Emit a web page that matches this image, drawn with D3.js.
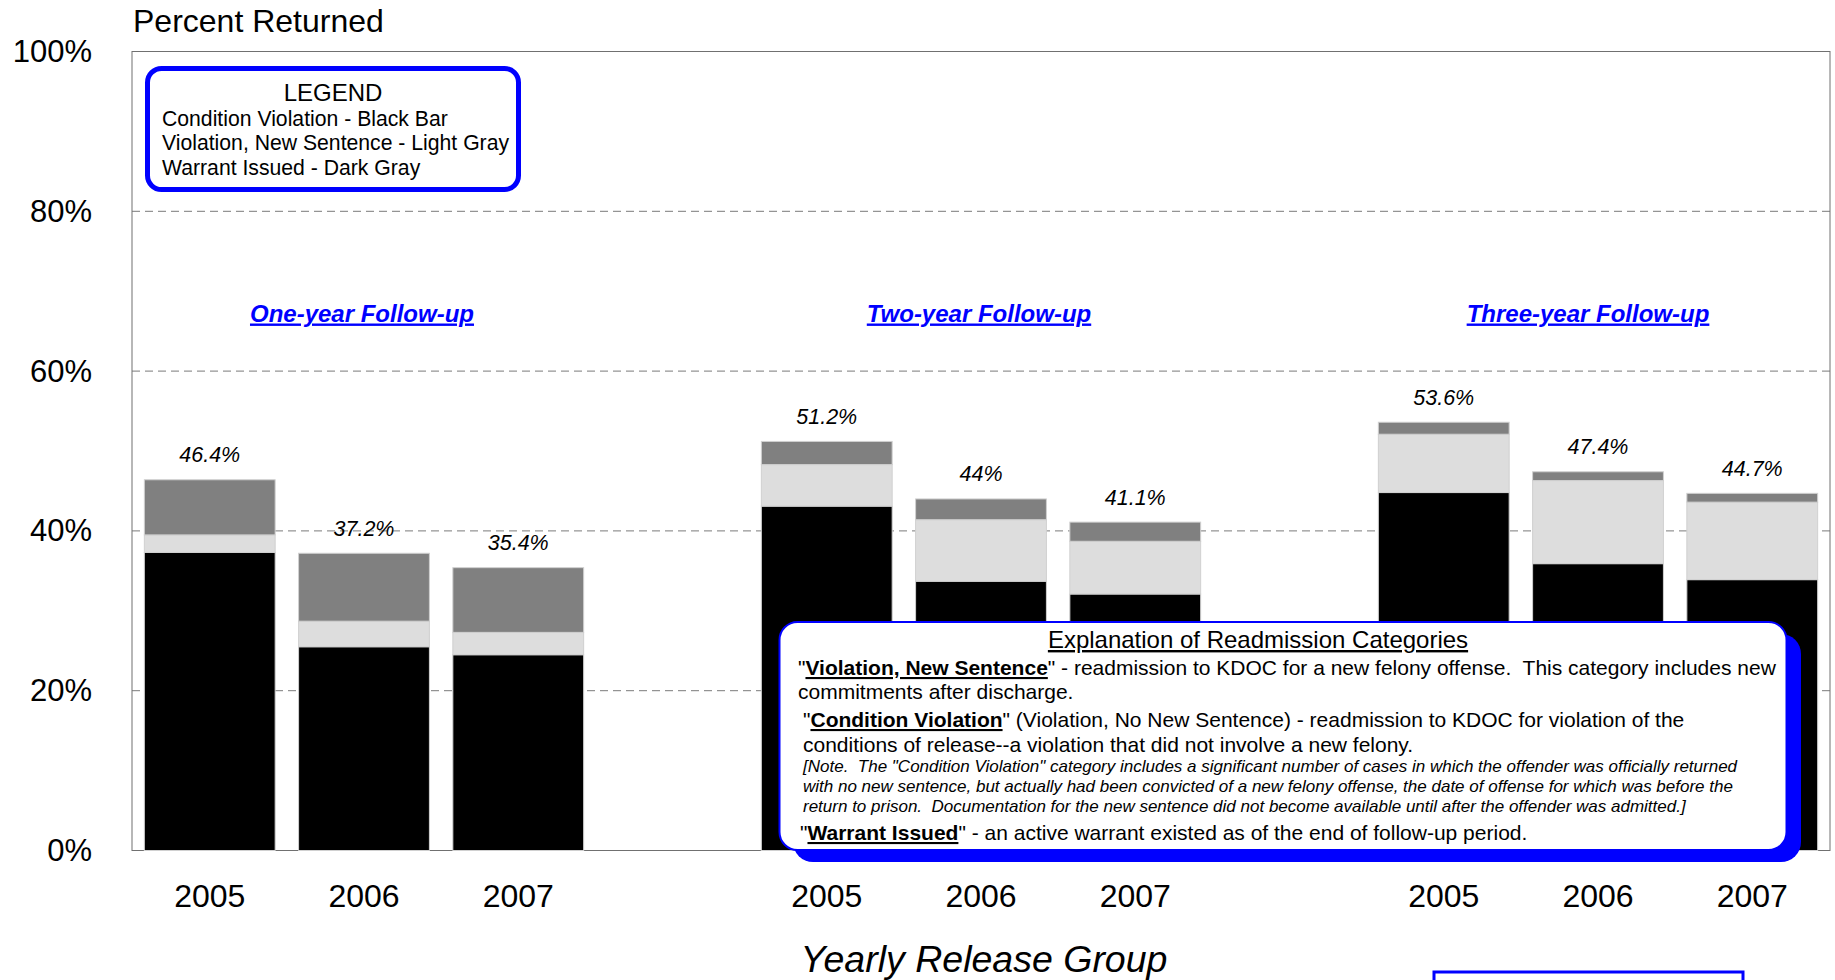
<!DOCTYPE html>
<html>
<head>
<meta charset="utf-8">
<script src="https://cdn.jsdelivr.net/npm/d3@7"></script>
<style>
  body { margin: 0; background: #fff; }
  svg text { font-family: "Liberation Sans", Arial, sans-serif; }
</style>
</head>
<body>
<script>
// data (percent returned)
var groups = ["One-year Follow-up", "Two-year Follow-up", "Three-year Follow-up"];
var years = ["2005", "2006", "2007"];
var conditionViolation = [[37.3, 25.5, 24.5], [43.1, 33.7, 32.1], [44.8, 35.9, 33.9]];
var newSentence        = [[2.2, 3.2, 2.8],    [5.2, 7.7, 6.6],    [7.3, 10.4, 9.7]];
var warrantIssued      = [[6.9, 8.5, 8.1],    [2.9, 2.6, 2.4],    [1.5, 1.1, 1.1]];
var yTicks = [0, 20, 40, 60, 80, 100];
var legendLines = ["Condition Violation - Black Bar", "Violation, New Sentence - Light Gray", "Warrant Issued - Dark Gray"];

var width = 1835, height = 980;
var plotLeft = 132, plotRight = 1830, plotTop = 51.5, plotBottom = 850.5;

var svg = d3.select("body")
            .append("svg")
            .attr("width", width)
            .attr("height", height);

// 11 slots: 3 bars per group with an empty slot between groups
var x = d3.scaleBand()
          .domain(d3.range(11))
          .range([plotLeft, plotRight])
          .paddingInner(0.152)
          .paddingOuter(0.08);

var y = d3.scaleLinear()
          .domain([0, 100])
          .range([plotBottom, plotTop]);

var rows = [];
groups.forEach(function(g, gi) {
    years.forEach(function(yr, yi) {
        var cv = conditionViolation[gi][yi], ns = newSentence[gi][yi], w = warrantIssued[gi][yi];
        rows.push({ group: gi, year: yr, slot: gi * 4 + yi, cv: cv, ns: ns, w: w, total: cv + ns + w });
    });
});

// grid
svg.selectAll("line.grid")
   .data(yTicks.filter(function(d) { return d > 0 && d < 100; }))
   .enter()
        .append("line")
        .attr("class", "grid")
        .attr("x1", plotLeft).attr("x2", plotRight)
        .attr("y1", function(d) { return y(d); })
        .attr("y2", function(d) { return y(d); })
        .attr("stroke", "#7a7a7a")
        .attr("stroke-dasharray", "8,5");

svg.append("rect")
   .attr("x", plotLeft).attr("y", y(100))
   .attr("width", plotRight - plotLeft).attr("height", y(0) - y(100))
   .attr("fill", "none")
   .attr("stroke", "#707070");

// stacked bars
var stack = d3.stack().keys(["cv", "ns", "w"]);
var colors = { cv: "#000000", ns: "#dddddd", w: "#808080" };

svg.selectAll("g.layer")
   .data(stack(rows))
   .enter()
        .append("g")
        .attr("class", "layer")
        .attr("fill", function(d) { return colors[d.key]; })
        .selectAll("rect")
        .data(function(d) { return d; })
        .enter()
            .append("rect")
            .attr("x", function(d) { return x(d.data.slot); })
            .attr("width", x.bandwidth())
            .attr("y", function(d) { return y(d[1]); })
            .attr("height", function(d) { return y(d[0]) - y(d[1]); })
            .attr("stroke", "#d0d0d0")
            .attr("stroke-width", 1);

// totals
svg.selectAll("text.total")
   .data(rows)
   .enter()
        .append("text")
        .attr("class", "total")
        .attr("x", function(d) { return x(d.slot) + x.bandwidth() / 2; })
        .attr("y", function(d) { return y(d.total) - 17.5; })
        .attr("text-anchor", "middle")
        .attr("font-size", 21.5)
        .attr("font-style", "italic")
        .text(function(d) { return +d.total.toFixed(1) + "%"; });

// group titles
var titleShift = [-2, -2, -10];
svg.selectAll("text.group")
   .data(groups)
   .enter()
        .append("text")
        .attr("class", "group")
        .attr("x", function(d, i) {
            return (x(i * 4) + x(i * 4 + 2) + x.bandwidth()) / 2 + titleShift[i];
        })
        .attr("y", 321.5)
        .attr("text-anchor", "middle")
        .attr("font-size", 24)
        .attr("font-weight", "bold")
        .attr("font-style", "italic")
        .attr("text-decoration", "underline")
        .attr("fill", "#0000ff")
        .text(function(d) { return d; });

// axes
var yAxis = svg.append("g")
               .attr("transform", "translate(" + plotLeft + ",0)")
               .call(d3.axisLeft(y).tickValues(yTicks).tickSize(0).tickPadding(40)
                       .tickFormat(function(d) { return d + "%"; }));
yAxis.select(".domain").remove();
yAxis.selectAll("text").attr("font-size", 31).attr("font-family", null).attr("fill", "#000");

var xAxis = svg.append("g")
               .attr("transform", "translate(0," + plotBottom + ")")
               .call(d3.axisBottom(x).tickValues(rows.map(function(d) { return d.slot; }))
                       .tickSize(0).tickPadding(34)
                       .tickFormat(function(d) { return years[d % 4]; }));
xAxis.select(".domain").remove();
xAxis.selectAll("text").attr("font-size", 32).attr("font-family", null).attr("fill", "#000");

svg.append("text")
   .attr("x", 133).attr("y", 31.5)
   .attr("font-size", 32)
   .text("Percent Returned");

svg.append("text")
   .attr("x", (plotLeft + plotRight) / 2 + 3).attr("y", 971.5)
   .attr("text-anchor", "middle")
   .attr("font-size", 37.5)
   .attr("font-style", "italic")
   .text("Yearly Release Group");

// legend box
svg.append("rect")
   .attr("x", 147.5).attr("y", 68.5)
   .attr("width", 371).attr("height", 121)
   .attr("rx", 14)
   .attr("fill", "#fff")
   .attr("stroke", "#0000ff")
   .attr("stroke-width", 5);

svg.append("text")
   .attr("x", 333).attr("y", 100.5)
   .attr("text-anchor", "middle")
   .attr("font-size", 24)
   .text("LEGEND");

svg.selectAll("text.leg")
   .data(legendLines)
   .enter()
        .append("text")
        .attr("class", "leg")
        .attr("x", 162)
        .attr("y", function(d, i) { return 126 + i * 24.4; })
        .attr("font-size", 21.2)
        .text(function(d) { return d; });

// explanation box
svg.append("rect")
   .attr("x", 793).attr("y", 634)
   .attr("width", 1008).attr("height", 228)
   .attr("rx", 20)
   .attr("fill", "#0000ff");

svg.append("rect")
   .attr("x", 779.5).attr("y", 622)
   .attr("width", 1007).attr("height", 228)
   .attr("rx", 18)
   .attr("fill", "#fff")
   .attr("stroke", "#0000ff")
   .attr("stroke-width", 2);

svg.append("text")
   .attr("x", 1258).attr("y", 648)
   .attr("text-anchor", "middle")
   .attr("font-size", 24)
   .attr("text-decoration", "underline")
   .text("Explanation of Readmission Categories");

var explain = [
    { x: 798, y: 675, size: 21, parts: [["\"", ""], ["Violation, New Sentence", "b"], ["\" - readmission to KDOC for a new felony offense.  This category includes new", ""]] },
    { x: 798, y: 698.5, size: 21, parts: [["commitments after discharge.", ""]] },
    { x: 803, y: 727, size: 21, parts: [["\"", ""], ["Condition Violation", "b"], ["\" (Violation, No New Sentence) - readmission to KDOC for violation of the", ""]] },
    { x: 803, y: 752, size: 21, parts: [["conditions of release--a violation that did not involve a new felony.", ""]] },
    { x: 803, y: 772, size: 17, parts: [["[Note.  The \"Condition Violation\" category includes a significant number of cases in which the offender was officially returned", "i"]] },
    { x: 803, y: 792, size: 17, parts: [["with no new sentence, but actually had been convicted of a new felony offense, the date of offense for which was before the", "i"]] },
    { x: 803, y: 812, size: 17, parts: [["return to prison.  Documentation for the new sentence did not become available until after the offender was admitted.]", "i"]] },
    { x: 800, y: 840, size: 21, parts: [["\"", ""], ["Warrant Issued", "b"], ["\" - an active warrant existed as of the end of follow-up period.", ""]] }
];

var lines = svg.selectAll("text.explain")
               .data(explain)
               .enter()
                    .append("text")
                    .attr("class", "explain")
                    .attr("x", function(d) { return d.x; })
                    .attr("y", function(d) { return d.y; })
                    .attr("font-size", function(d) { return d.size; })
                    .style("white-space", "pre");

lines.selectAll("tspan")
     .data(function(d) { return d.parts; })
     .enter()
        .append("tspan")
        .attr("font-weight", function(p) { return p[1] == "b" ? "bold" : null; })
        .attr("font-style", function(p) { return p[1] == "i" ? "italic" : null; })
        .attr("text-decoration", function(p) { return p[1] == "b" ? "underline" : null; })
        .text(function(p) { return p[0]; });

// blue box cut off at the bottom right
svg.append("rect")
   .attr("x", 1434).attr("y", 972)
   .attr("width", 309).attr("height", 30)
   .attr("fill", "none")
   .attr("stroke", "#0000ff")
   .attr("stroke-width", 3);
</script>
</body>
</html>
